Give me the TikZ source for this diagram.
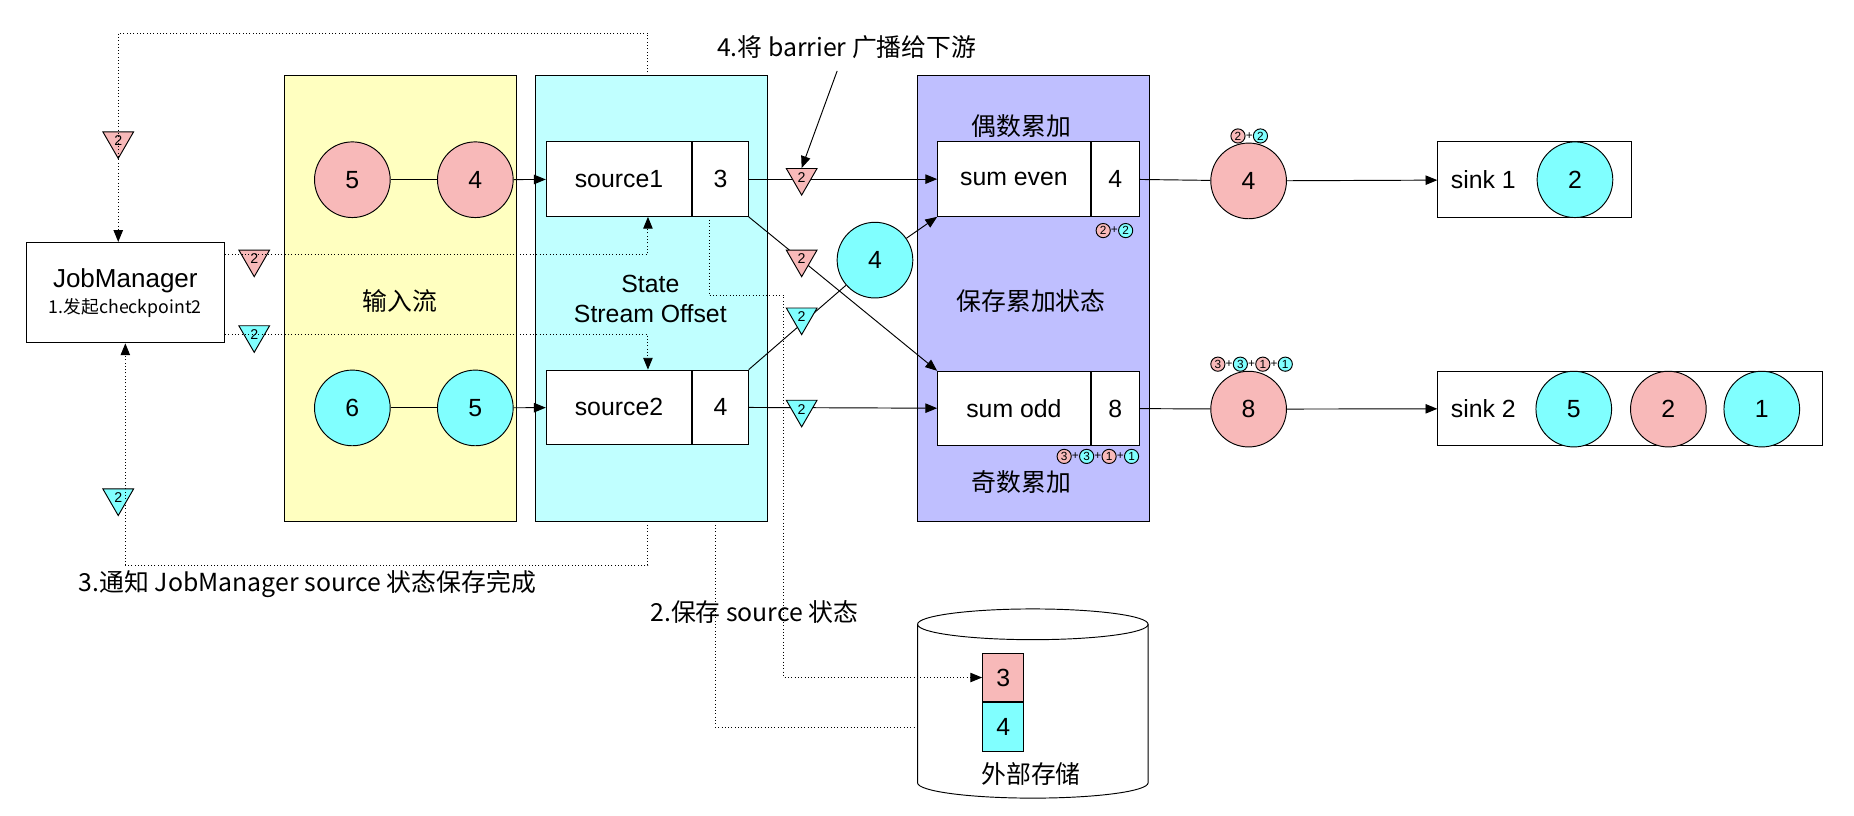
\documentclass[tikz,border=0pt]{standalone}
\usepackage{fontspec}
\setmainfont{Liberation Sans}
\newfontfamily\cjk{Noto Sans CJK SC}
\usepackage{tikz}
\usetikzlibrary{shapes.geometric,arrows.meta,positioning}

\definecolor{pinkc}{HTML}{F8B9B9}
\definecolor{cyanc}{HTML}{80FFFF}
\definecolor{yellowbg}{HTML}{FFFFC0}
\definecolor{cyanbg}{HTML}{C0FFFF}
\definecolor{purplebg}{HTML}{BFBFFF}

\tikzset{
    circ/.style={draw, circle, minimum size=32pt, inner sep=0pt, font=\fontsize{10.5}{12}\selectfont},
    box/.style={draw, fill=white, minimum height=31.5pt, inner sep=2pt, font=\fontsize{10.5}{12}\selectfont},
    tri/.style={draw, regular polygon, regular polygon sides=3, shape border rotate=180,
        minimum size=15pt, inner sep=0pt, font=\fontsize{6}{6}\selectfont},
    dot/.style={densely dotted, thin},
    arr/.style={-{Triangle[length=5pt,width=4pt]}},
    cjktext/.style={font=\cjk\fontsize{10.5}{12}\selectfont},
}

% small numbered badges
\newcommand{\badgerow}[3]{%
    \foreach \n/\c [count=\k from 0] in {#3} {
        \node[draw, circle, fill=\c, minimum size=6pt, inner sep=0pt, font=\fontsize{5}{5}\selectfont]
            at (#1+\k*19, #2) {\n};
        \ifnum\k>0 \node[font=\fontsize{5}{5}\selectfont] at (#1+\k*19-9.5, #2) {+};\fi
    }%
}

\begin{document}
\begin{tikzpicture}[x=0.5pt, y=-0.5pt]
    \useasboundingbox (0,0) rectangle (1568,690);

    % Background areas
    \draw[fill=yellowbg] (241,64) rectangle (437,441);
    \draw[fill=cyanbg] (453,64) rectangle (649,441);
    \draw[fill=purplebg] (776,64) rectangle (972,441);
    \node[cjktext] (input) at (338,255) {输入流};
    \node[align=center, font=\fontsize{10.5}{12.5}\selectfont] (state) at (550,253) {State\\Stream Offset};
    \node[cjktext] (even) at (864,107) {偶数累加};
    \node[cjktext] (keep) at (872,255) {保存累加状态};
    \node[cjktext] (odd) at (864,408) {奇数累加};

    % JobManager
    \node[draw, fill=white, minimum width=84pt, minimum height=42.5pt, align=center] (jm) at (106,247.5)
        {\fontsize{11}{13}\selectfont JobManager\\[-1pt]{\cjk\fontsize{7.5}{9}\selectfont 1.发起checkpoint2}};

    % Input records
    \node[circ, fill=pinkc] (p5) at (298,152) {5};
    \node[circ, fill=pinkc] (p4) at (402,152) {4};
    \node[circ, fill=cyanc] (c6) at (298,345) {6};
    \node[circ, fill=cyanc] (c5) at (402,345) {5};

    % Sources
    \node[box, minimum width=61.5pt] (src1) at (523.5,151.5) {source1};
    \node[box, minimum width=23.5pt, right=0pt of src1, inner sep=0pt] (src1v) {3};
    \node[box, minimum width=61.5pt] (src2) at (523.5,344.5) {source2};
    \node[box, minimum width=23.5pt, right=0pt of src2, inner sep=0pt] (src2v) {4};

    % Sums
    \node[box, minimum width=64.5pt] (seven) at (857.5,151.5) {sum even};
    \node[box, minimum width=20.5pt, right=0pt of seven, inner sep=0pt] (sevenv) {4};
    \node[box, minimum width=64.5pt] (sodd) at (857.5,345.5) {sum odd};
    \node[box, minimum width=20.5pt, right=0pt of sodd, inner sep=0pt] (soddv) {8};

    \node[circ, fill=cyanc] (c4) at (740,220) {4};
    \node[circ, fill=pinkc] (r4) at (1056,153) {4};
    \node[circ, fill=pinkc] (r8) at (1056,346) {8};

    % Sinks
    \node[draw, fill=white, minimum width=82pt, minimum height=32pt] (sink1) at (1298,152) {};
    \node[anchor=west, font=\fontsize{10.5}{12}\selectfont] (sink1t) at (1220,152) {sink 1};
    \node[circ, fill=cyanc] (k2) at (1332,152) {2};
    \node[draw, fill=white, minimum width=162.5pt, minimum height=31.5pt] (sink2) at (1378.5,345.5) {};
    \node[anchor=west, font=\fontsize{10.5}{12}\selectfont] (sink2t) at (1220,345.5) {sink 2};
    \node[circ, fill=cyanc] (k5) at (1331,346) {5};
    \node[circ, fill=pinkc] (k2b) at (1411,346) {2};
    \node[circ, fill=cyanc] (k1) at (1490,346) {1};

    % Storage
    \draw[fill=white] (776,528) -- (776,662) arc[start angle=180, end angle=0, x radius=97.5, y radius=13]
        -- (971,528) arc[start angle=0, end angle=-180, x radius=97.5, y radius=13];
    \draw (776,528) arc[start angle=180, end angle=0, x radius=97.5, y radius=13];
    \node[draw, fill=pinkc, minimum width=17.5pt, minimum height=20pt, inner sep=0pt,
        font=\fontsize{10.5}{12}\selectfont] (st3) at (848.5,573) {3};
    \node[draw, fill=cyanc, minimum width=17.5pt, minimum height=21pt, inner sep=0pt,
        font=\fontsize{10.5}{12}\selectfont, below=0pt of st3] (st4) {4};
    \node[cjktext] (store) at (872,655) {外部存储};

    % Data flow
    \draw (p5) -- (p4);
    \draw (c6) -- (c5);
    \draw[arr] (p4) -- (src1);
    \draw[arr] (c5) -- (src2);
    \draw[arr] (src1v) -- (seven);
    \draw[arr] (src1v.south east) -- (sodd.north west);
    \draw (src2v.north east) -- (c4);
    \draw[arr] (c4) -- (seven.south west);
    \draw[arr] (src2v) -- (sodd);
    \draw (sevenv) -- (r4);
    \draw[arr] (r4) -- (sink1);
    \draw (soddv) -- (r8);
    \draw[arr] (r8) -- (sink2);

    % Barriers
    \node[tri, fill=pinkc] (b1) at (100,119) {2};
    \node[tri, fill=pinkc] (b2) at (215,219) {2};
    \node[tri, fill=cyanc] (b3) at (215,283) {2};
    \node[tri, fill=cyanc] (b4) at (100,421) {2};
    \node[tri, fill=pinkc] (b5) at (678,150) {2};
    \node[tri, fill=pinkc] (b6) at (678,219) {2};
    \node[tri, fill=cyanc] (b7) at (678,268) {2};
    \node[tri, fill=cyanc] (b8) at (678,346) {2};

    % Checkpoint messages
    \draw[dot, arr] (548,64) |- (100,28) -- (jm.north -| 100,0);
    \draw[dot, arr] (jm.east |- 0,215) -| (src1.south -| 548,0);
    \draw[dot, arr] (jm.east |- 0,283) -| (src2.north -| 548,0);
    \draw[dot, arr] (548,441) |- (106,478) -- (jm.south);
    \draw[dot, arr] (600,183) |- (663,250) |- (st3.west);
    \draw[dot] (605,441) |- (776,615);

    % Badges
    \badgerow{933}{195}{2/pinkc,2/cyanc}
    \badgerow{1047}{115}{2/pinkc,2/cyanc}
    \badgerow{900}{386}{3/pinkc,3/cyanc,1/pinkc,1/cyanc}
    \badgerow{1030}{308}{3/pinkc,3/cyanc,1/pinkc,1/cyanc}

    % Annotations
    \node[cjktext] (step4) at (716,40) {4.将 barrier 广播给下游};
    \draw[arr] (708,60) -- (b5.north);
    \node[cjktext] (step3) at (260,494) {3.通知 JobManager source 状态保存完成};
    \node[cjktext] (step2) at (638,518) {2.保存 source 状态};
\end{tikzpicture}
\end{document}
